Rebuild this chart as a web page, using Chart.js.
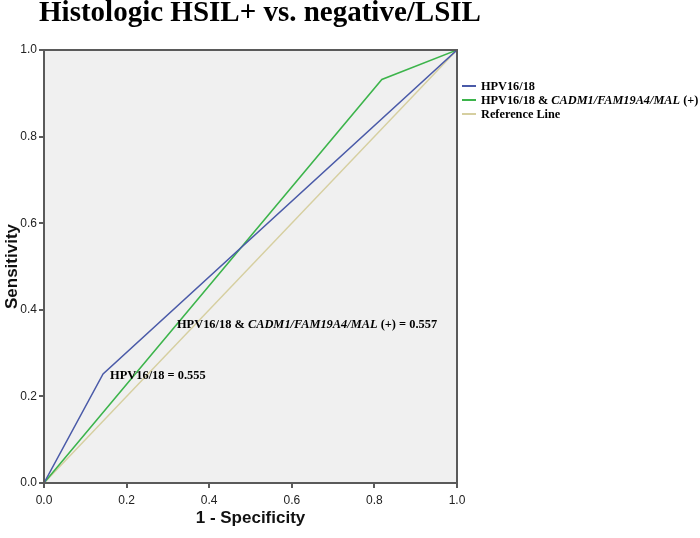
<!DOCTYPE html>
<html>
<head>
<meta charset="utf-8">
<script src="https://cdn.jsdelivr.net/npm/chart.js@4.4.0/dist/chart.umd.min.js"></script>
<style>
  html, body { margin: 0; padding: 0; background: #fff; }
  #wrap { width: 700px; height: 538px; }
</style>
</head>
<body>
<div id="wrap"><canvas id="roc" width="700" height="538"></canvas></div>
<script>
// ROC points
const fprHpv = [0, 0.143, 1];
const sensHpv = [0, 0.252, 1];
const fprCombo = [0, 0.818, 1];
const sensCombo = [0, 0.932, 1];
const fprRef = [0, 1];
const sensRef = [0, 1];

const axisTicks = [0, 0.2, 0.4, 0.6, 0.8, 1.0];

// label pieces: [text, italic]
const labelHpv = [['HPV16/18', false]];
const labelCombo = [['HPV16/18 & ', false], ['CADM1/FAM19A4/MAL', true], [' (+)', false]];
const labelRef = [['Reference Line', false]];
const aucHpv = '0.555';
const aucCombo = '0.557';
// where the AUC notes sit, in data units (x, y)
const noteHpvAt = [0.160, 0.247];
const noteComboAt = [0.322, 0.365];

const serif = '"Liberation Serif", "Times New Roman", serif';
const sans = '"Liberation Sans", Arial, sans-serif';

function pts(xs, ys) {
  return xs.map((x, i) => ({ x: x, y: ys[i] }));
}

function drawParts(ctx, parts, x, y, size) {
  parts.forEach(p => {
    ctx.font = (p[1] ? 'italic ' : '') + 'bold ' + size + 'px ' + serif;
    ctx.fillText(p[0], x, y);
    x += ctx.measureText(p[0]).width;
  });
}

const decor = {
  id: 'decor',
  beforeDraw(chart) {
    const { ctx, chartArea: a } = chart;
    ctx.save();
    ctx.fillStyle = '#f0f0f0';
    ctx.fillRect(a.left, a.top, a.right - a.left, a.bottom - a.top);
    ctx.restore();
  },
  afterDraw(chart) {
    const { ctx, chartArea: a, scales } = chart;
    ctx.save();
    ctx.strokeStyle = '#5a5a5a';
    ctx.lineWidth = 2;
    ctx.strokeRect(a.left, a.top, a.right - a.left, a.bottom - a.top);

    // title
    ctx.fillStyle = '#000';
    ctx.textBaseline = 'alphabetic';
    ctx.textAlign = 'center';
    ctx.font = 'bold 29px ' + serif;
    ctx.fillText('Histologic HSIL+ vs. negative/LSIL', 260, 21);

    // AUC notes
    ctx.textAlign = 'left';
    ctx.textBaseline = 'middle';
    drawParts(ctx, labelHpv.concat([[' = ' + aucHpv, false]]),
      scales.x.getPixelForValue(noteHpvAt[0]), scales.y.getPixelForValue(noteHpvAt[1]), 12.4);
    drawParts(ctx, labelCombo.concat([[' = ' + aucCombo, false]]),
      scales.x.getPixelForValue(noteComboAt[0]), scales.y.getPixelForValue(noteComboAt[1]), 12.4);

    // legend
    const labels = [labelHpv, labelCombo, labelRef];
    chart.data.datasets.forEach((ds, i) => {
      const y = 86 + i * 14;
      ctx.strokeStyle = ds.borderColor;
      ctx.lineWidth = 2;
      ctx.beginPath();
      ctx.moveTo(462, y);
      ctx.lineTo(476, y);
      ctx.stroke();
      ctx.fillStyle = '#000';
      drawParts(ctx, labels[i], 481, y + 1, 12.3);
    });
    ctx.restore();
  }
};

const tickFont = { family: sans, size: 12 };
const titleFont = { family: sans, size: 17, weight: 'bold' };

new Chart(document.getElementById('roc'), {
  type: 'scatter',
  data: {
    datasets: [
      { label: 'HPV16/18', data: pts(fprHpv, sensHpv), borderColor: '#4a5aa8' },
      { label: 'HPV16/18 & CADM1/FAM19A4/MAL (+)', data: pts(fprCombo, sensCombo), borderColor: '#3cb44b' },
      { label: 'Reference Line', data: pts(fprRef, sensRef), borderColor: '#d6cfa0' }
    ].map(d => Object.assign(d, {
      showLine: true, pointRadius: 0, borderWidth: 1.5, tension: 0, fill: false
    }))
  },
  options: {
    responsive: false,
    animation: false,
    layout: { padding: { top: 50, right: 243, left: 0, bottom: 0 } },
    plugins: { legend: { display: false }, tooltip: { enabled: false } },
    scales: {
      x: {
        type: 'linear', min: 0, max: 1,
        afterBuildTicks: s => { s.ticks = axisTicks.map(v => ({ value: v })); },
        afterFit: s => { s.height = 55; },
        ticks: { callback: v => v.toFixed(1), font: tickFont, color: '#222', padding: 5, maxRotation: 0 },
        grid: { drawOnChartArea: false, drawTicks: true, tickLength: 5, color: '#5a5a5a', lineWidth: 2 },
        border: { display: false },
        title: { display: true, text: '1 - Specificity', font: titleFont, color: '#111', padding: { top: 0, bottom: 9 } }
      },
      y: {
        type: 'linear', min: 0, max: 1,
        afterBuildTicks: s => { s.ticks = axisTicks.map(v => ({ value: v })); },
        afterFit: s => { s.width = 44; },
        ticks: { callback: v => v.toFixed(1), font: tickFont, color: '#222', padding: 2 },
        grid: { drawOnChartArea: false, drawTicks: true, tickLength: 5, color: '#5a5a5a', lineWidth: 2 },
        border: { display: false },
        title: { display: true, text: 'Sensitivity', font: titleFont, color: '#111', padding: { top: 2, bottom: 0 } }
      }
    }
  },
  plugins: [decor]
});
</script>
</body>
</html>
